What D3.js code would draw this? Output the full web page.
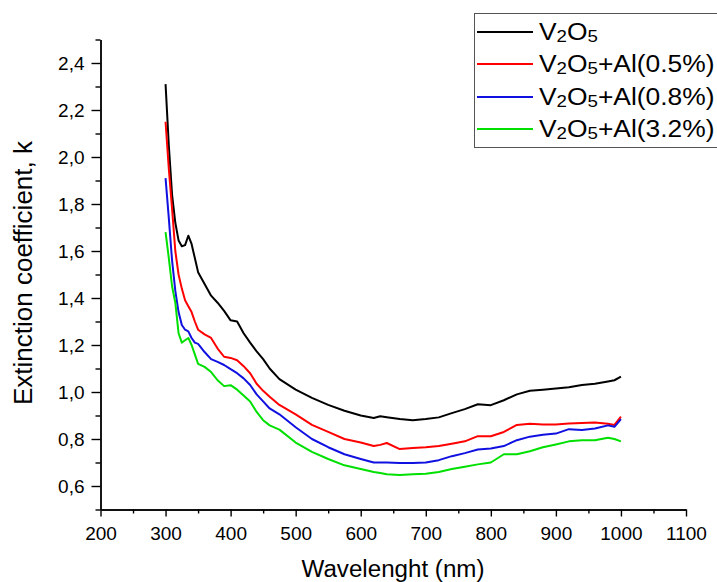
<!DOCTYPE html>
<html>
<head>
<meta charset="utf-8">
<script src="https://cdn.jsdelivr.net/npm/d3@7"></script>
<style>
  body { margin: 0; background: #fff; }
  text { font-family: "Liberation Sans", Arial, sans-serif; fill: #000; }
</style>
</head>
<body>
<div id="chart"></div>
<script>
// wavelengths (nm) shared by all curves
const wavelength = [300,305,310,315,320,325,330,335,340,345,350,360,370,380,390,400,410,420,430,440,450,460,475,500,525,550,575,600,620,630,640,660,680,700,720,740,760,780,800,820,840,860,880,900,920,940,960,980,990,1000];

// extinction coefficient k
const kPure = [2.31,2.05,1.84,1.72,1.645,1.62,1.625,1.665,1.63,1.57,1.51,1.46,1.41,1.38,1.345,1.305,1.30,1.25,1.21,1.173,1.14,1.10,1.055,1.01,0.975,0.945,0.92,0.90,0.889,0.897,0.893,0.885,0.88,0.885,0.892,0.91,0.927,0.948,0.944,0.965,0.99,1.005,1.01,1.015,1.02,1.03,1.035,1.045,1.05,1.065];
const kAl05 = [2.15,1.95,1.78,1.60,1.50,1.44,1.39,1.365,1.34,1.30,1.265,1.245,1.23,1.185,1.15,1.145,1.135,1.11,1.08,1.035,1.005,0.98,0.945,0.905,0.86,0.83,0.80,0.785,0.77,0.775,0.783,0.757,0.762,0.765,0.77,0.78,0.79,0.812,0.812,0.83,0.86,0.865,0.862,0.862,0.866,0.868,0.87,0.865,0.86,0.895];
const kAl08 = [1.91,1.74,1.56,1.43,1.34,1.285,1.265,1.258,1.23,1.21,1.205,1.17,1.14,1.128,1.115,1.097,1.08,1.058,1.03,0.99,0.96,0.93,0.905,0.85,0.80,0.765,0.735,0.715,0.70,0.70,0.70,0.698,0.698,0.70,0.71,0.727,0.74,0.755,0.76,0.77,0.795,0.81,0.818,0.823,0.842,0.838,0.845,0.858,0.852,0.885];
const kAl32 = [1.68,1.57,1.45,1.38,1.25,1.21,1.22,1.23,1.20,1.16,1.12,1.107,1.085,1.05,1.025,1.029,1.01,0.985,0.96,0.915,0.88,0.858,0.84,0.785,0.745,0.715,0.688,0.672,0.66,0.655,0.65,0.647,0.65,0.652,0.66,0.672,0.682,0.692,0.70,0.735,0.735,0.748,0.765,0.777,0.79,0.795,0.795,0.805,0.80,0.79];

const seriesNames = ["V2O5", "V2O5+Al(0.5%)", "V2O5+Al(0.8%)", "V2O5+Al(3.2%)"];
const seriesColors = ["#000000", "#ff0000", "#1010e0", "#00e000"];
const seriesValues = [kPure, kAl05, kAl08, kAl32];

const xMajor = [200,300,400,500,600,700,800,900,1000,1100];
const xMinor = [250,350,450,550,650,750,850,950,1050];
const yMajor = [0.6,0.8,1.0,1.2,1.4,1.6,1.8,2.0,2.2,2.4];
const yMinor = [0.5,0.7,0.9,1.1,1.3,1.5,1.7,1.9,2.1,2.3,2.5];

const width = 717;
const height = 582;

const svg = d3.select('#chart')
  .append('svg')
  .attr('width', width)
  .attr('height', height);

const x = d3.scaleLinear().domain([200, 1100]).range([100.5, 686]);
const y = d3.scaleLinear().domain([0.5, 2.5]).range([509.5, 39.5]);

const comma = v => d3.format('.1f')(v).replace('.', ',');

// minor ticks first, then the major ones with labels
svg.append('g')
  .attr('transform', 'translate(0,509.5)')
  .call(d3.axisBottom(x).tickValues(xMinor).tickSize(4).tickSizeOuter(0).tickFormat(''));
svg.append('g')
  .attr('class', 'xaxis')
  .attr('transform', 'translate(0,509.5)')
  .call(d3.axisBottom(x).tickValues(xMajor).tickSize(7).tickSizeOuter(0).tickPadding(10).tickFormat(d3.format('d')));

svg.append('g')
  .attr('transform', 'translate(100.5,0)')
  .call(d3.axisLeft(y).tickValues(yMinor).tickSize(5).tickSizeOuter(0).tickFormat(''));
svg.append('g')
  .attr('class', 'yaxis')
  .attr('transform', 'translate(100.5,0)')
  .call(d3.axisLeft(y).tickValues(yMajor).tickSize(9).tickSizeOuter(0).tickPadding(7).tickFormat(comma));

svg.selectAll('.domain').attr('stroke', '#000').attr('stroke-width', 1.4);
svg.selectAll('.tick line').attr('stroke', '#000').attr('stroke-width', 1.4);
svg.selectAll('.xaxis text, .yaxis text')
  .style('font-family', '"Liberation Sans", Arial, sans-serif')
  .style('font-size', '19px')
  .attr('fill', '#000');

// curves
const line = d3.line()
  .x((d, i) => x(wavelength[i]))
  .y(d => y(d));

svg.selectAll('path.curve')
  .data(seriesValues)
  .enter()
  .append('path')
  .attr('class', 'curve')
  .attr('d', d => line(d))
  .attr('fill', 'none')
  .attr('stroke', (d, i) => seriesColors[i])
  .attr('stroke-width', 2)
  .attr('stroke-linejoin', 'round');

// axis titles
svg.append('text')
  .attr('x', 393)
  .attr('y', 577)
  .attr('text-anchor', 'middle')
  .style('font-size', '23px')
  .attr('transform', 'translate(393,0) scale(1.05,1) translate(-393,0)')
  .text('Wavelenght (nm)');

svg.append('text')
  .attr('transform', 'translate(32,273) rotate(-90)')
  .attr('text-anchor', 'middle')
  .style('font-size', '26px')
  .text('Extinction coefficient, k');

// legend
const legend = svg.append('g');
legend.append('rect')
  .attr('x', 474.5)
  .attr('y', 13.5)
  .attr('width', 250)
  .attr('height', 134)
  .attr('fill', '#fff')
  .attr('stroke', '#555')
  .attr('stroke-width', 1);

const rowY = [32, 64, 97, 129];
seriesNames.forEach((name, i) => {
  legend.append('line')
    .attr('x1', 477).attr('x2', 533)
    .attr('y1', rowY[i]).attr('y2', rowY[i])
    .attr('stroke', seriesColors[i])
    .attr('stroke-width', 2);
  // text a little wider than the font, as in the picture
  const t = legend.append('text')
    .attr('transform', `translate(539,${rowY[i] + 8}) scale(1.1,1)`)
    .style('font-size', '24px');
  // subscript digits after V and O
  const parts = name.match(/V2O5(.*)/);
  t.append('tspan').text('V');
  t.append('tspan').attr('dy', 2).style('font-size', '17px').text('2');
  t.append('tspan').attr('dy', -2).text('O');
  t.append('tspan').attr('dy', 2).style('font-size', '17px').text('5');
  t.append('tspan').attr('dy', -2).text(parts[1]);
});
</script>
</body>
</html>
